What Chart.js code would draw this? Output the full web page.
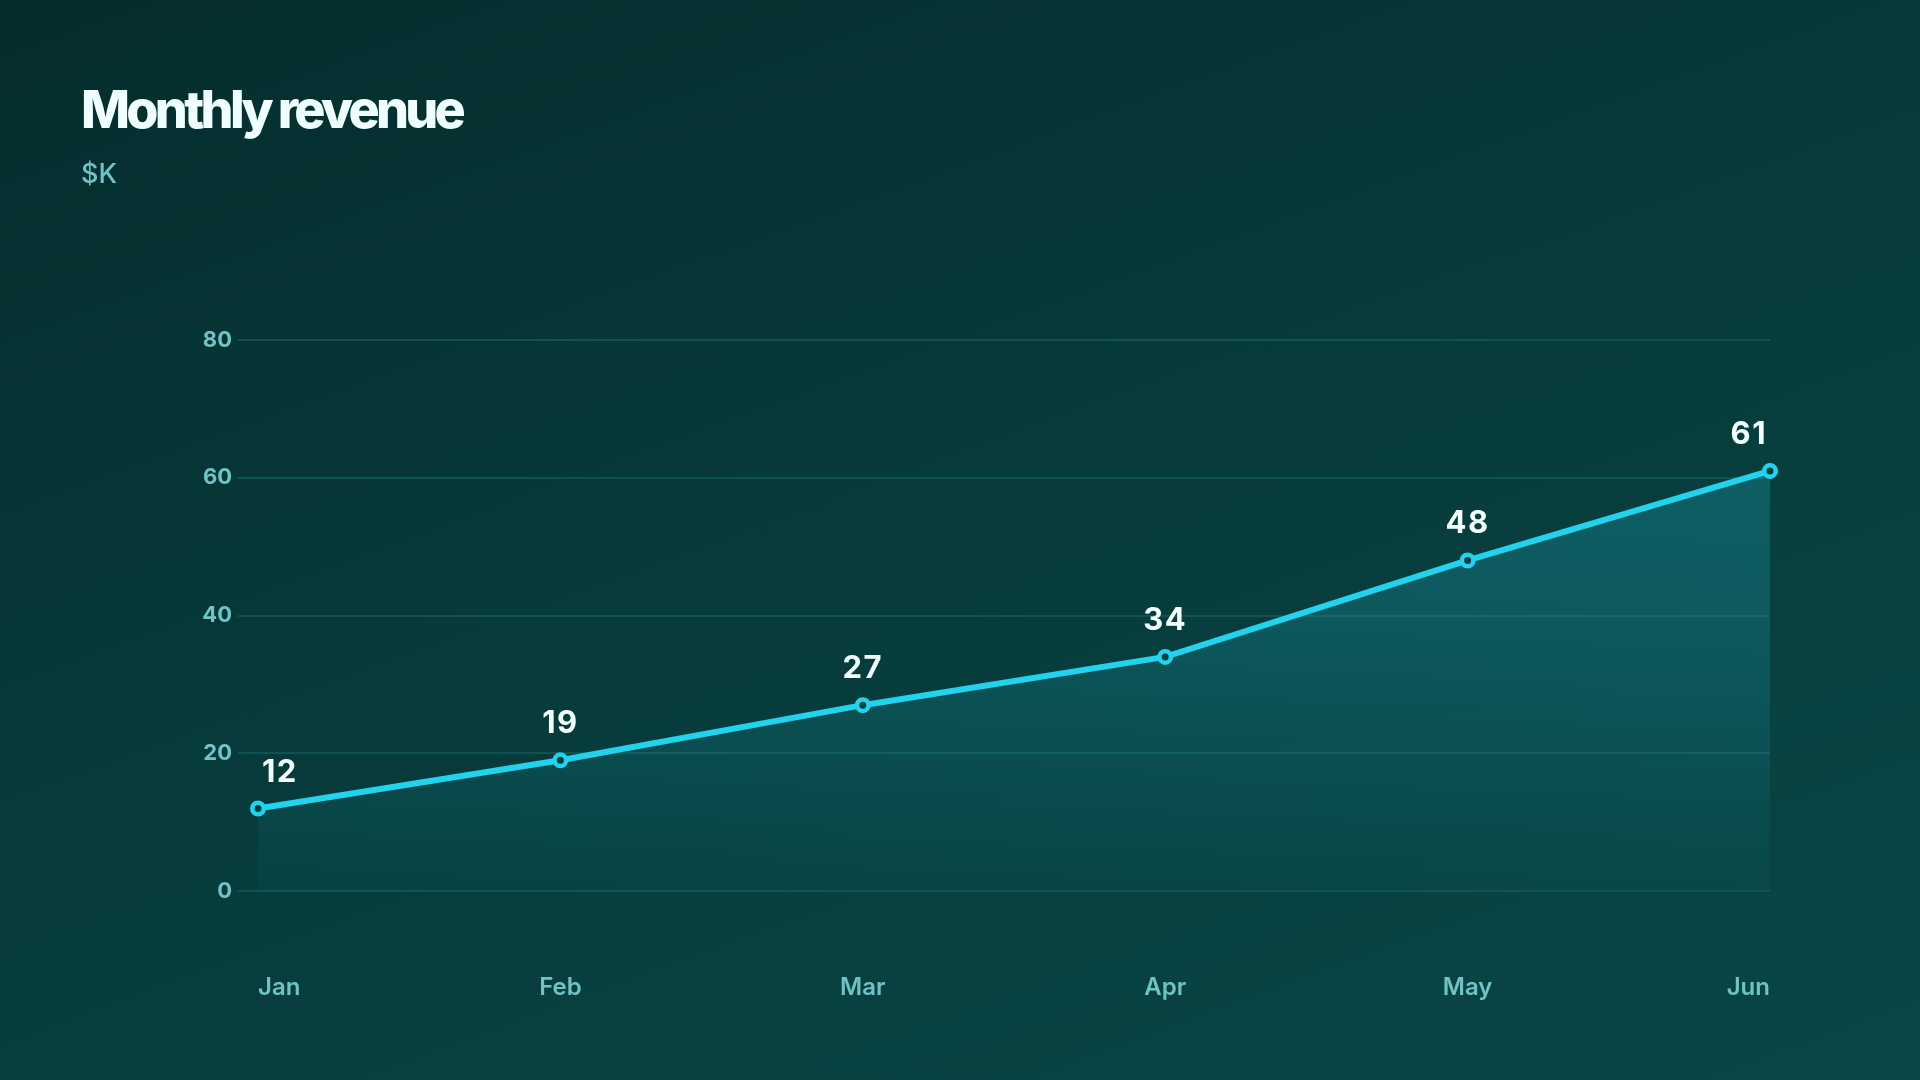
<!DOCTYPE html>
<html>
<head>
<meta charset="utf-8">
<script src="https://cdn.jsdelivr.net/npm/chart.js@4.4.1/dist/chart.umd.min.js"></script>
<style>
  html, body { margin: 0; padding: 0; }
  body {
    width: 1920px; height: 1080px; overflow: hidden;
    background: linear-gradient(160deg, #052c2d 0%, #073a3a 45%, #0a4646 100%);
  }
  #wrap { position: relative; width: 1920px; height: 1080px; }
  canvas { display: block; }
</style>
</head>
<body>
<div id="wrap"><canvas id="chart" width="1920" height="1080"></canvas></div>
<script>
const months = ["Jan", "Feb", "Mar", "Apr", "May", "Jun"];
const revenue = [12, 19, 27, 34, 48, 61];
const yTicks = [0, 20, 40, 60, 80];
const titleText = "Monthly revenue";
const unitText = "$K";

const lineColor = "#22d3ee";
const axisText = "#6fc3c4";
const gridColor = "#0f5252";

const ctx = document.querySelector("#chart").getContext("2d");

// heading drawn by hand so the letter spacing can be tightened
const heading = {
  id: "heading",
  afterDraw(chart) {
    const c = chart.ctx;
    c.save();
    c.textAlign = "left";
    c.textBaseline = "alphabetic";
    c.fillStyle = "#effefe";
    c.font = "800 52px Inter";
    c.letterSpacing = "-3.7px";
    c.fillText(titleText, 81, 128);
    c.letterSpacing = "0px";
    c.fillStyle = axisText;
    c.font = "500 27px Inter";
    c.fillText(unitText, 81, 183);
    c.restore();
  }
};

// labels above each point, first and last pulled inward like the x ticks
const pointLabels = {
  id: "pointLabels",
  afterDatasetsDraw(chart) {
    const meta = chart.getDatasetMeta(0);
    const c = chart.ctx;
    c.save();
    c.font = "bold 31px Inter";
    c.letterSpacing = "1.5px";
    c.fillStyle = "#f4ffff";
    c.textBaseline = "alphabetic";
    meta.data.forEach((pt, i) => {
      let align = "center";
      let x = pt.x;
      if (i === 0) { align = "left"; x += 4; }
      if (i === meta.data.length - 1) { align = "right"; x -= 3; }
      c.textAlign = align;
      c.fillText(String(revenue[i]), x, pt.y - 27);
    });
    c.restore();
  }
};

new Chart(ctx, {
  type: "line",
  data: {
    labels: months,
    datasets: [{
      data: revenue,
      borderColor: lineColor,
      borderWidth: 6,
      fill: "origin",
      backgroundColor: (context) => {
        const area = context.chart.chartArea;
        if (!area) return "rgba(34,211,238,0.15)";
        const g = context.chart.ctx.createLinearGradient(0, area.top, 0, area.bottom);
        g.addColorStop(0, "rgba(34,211,238,0.26)");
        g.addColorStop(0.5, "rgba(34,211,238,0.18)");
        g.addColorStop(1, "rgba(34,211,238,0.03)");
        return g;
      },
      tension: 0,
      pointRadius: 5.75,
      pointBorderWidth: 4.5,
      pointBackgroundColor: "#083d3d",
      pointBorderColor: lineColor
    }]
  },
  options: {
    responsive: false,
    animation: false,
    devicePixelRatio: 1,
    layout: { padding: { left: 81, right: 150, top: 340, bottom: 4 } },
    plugins: {
      legend: { display: false },
      tooltip: { enabled: false },
      title: { display: false }
    },
    scales: {
      x: {
        offset: false,
        grid: { display: false },
        border: { display: false },
        ticks: {
          align: "inner",
          color: axisText,
          font: { family: "Inter", size: 24, weight: "600" },
          padding: 74,
          maxRotation: 0
        }
      },
      y: {
        min: 0,
        max: 80,
        afterFit(scale) { scale.width = 177; },
        afterBuildTicks(scale) { scale.ticks = yTicks.map(v => ({ value: v })); },
        grid: { color: gridColor, lineWidth: 2, tickLength: 20, drawTicks: true },
        border: { display: false },
        ticks: {
          color: axisText,
          font: { family: "Inter", size: 22, weight: "bold" },
          padding: 6
        }
      }
    }
  },
  plugins: [pointLabels, heading]
});
</script>
</body>
</html>
